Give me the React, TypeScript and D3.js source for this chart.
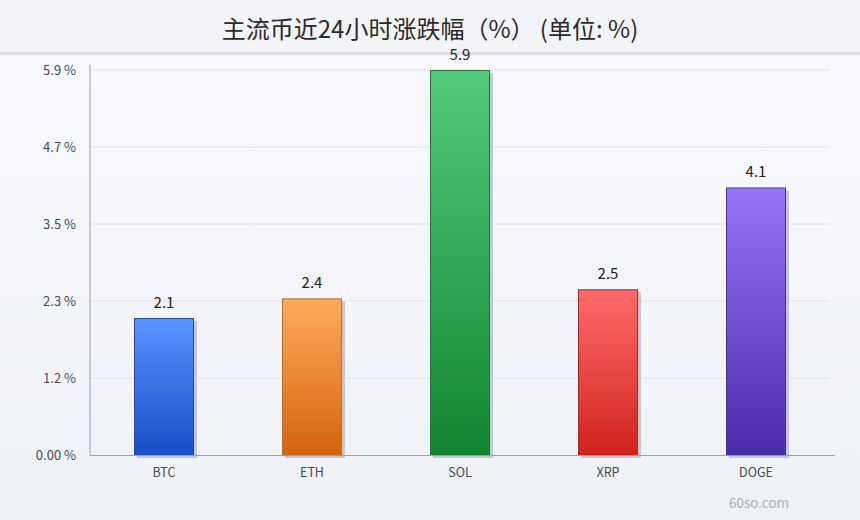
import { useEffect, useRef } from "react";
import * as d3 from "d3";

const WIDTH = 860;
const HEIGHT = 520;
const MARGIN = { top: 70, right: 30, bottom: 65, left: 90 };

const TITLE = "主流币近24小时涨跌幅（%） (单位: %)";
const coins = ["BTC", "ETH", "SOL", "XRP", "DOGE"];
const changes = [2.1, 2.4, 5.9, 2.54, 4.1];
const yTicks = [0, 1.18, 2.36, 3.54, 4.72, 5.9];
const yTickLabels = ["0.00 %", "1.2 %", "2.3 %", "3.5 %", "4.7 %", "5.9 %"];
const topColors = ["#5b93ff", "#ffab5c", "#55ca7c", "#ff6b6b", "#9775f8"];
const bottomColors = ["#184ec6", "#d2640e", "#118530", "#cf241c", "#482ca6"];
const strokeColors = ["#1f4cb8", "#c46a20", "#1d7a35", "#b82222", "#4a30a0"];

const FONT = "'Noto Sans CJK SC', 'Noto Sans', sans-serif";

export default function App() {
  const ref = useRef<SVGSVGElement | null>(null);

  useEffect(() => {
    const svg = d3.select(ref.current);
    svg.selectAll("*").remove();

    const x0 = MARGIN.left;
    const x1 = WIDTH - MARGIN.right;
    const y0 = HEIGHT - MARGIN.bottom;
    const y1 = MARGIN.top;

    const xScale = d3.scaleBand().domain(coins).range([x0, x1]).paddingInner(0.595).paddingOuter(0.2975);
    const yScale = d3.scaleLinear().domain([0, 5.9]).range([y0, y1]);

    const defs = svg.append("defs");
    const bg = defs.append("linearGradient").attr("id", "bg").attr("x1", 0).attr("y1", 0).attr("x2", 0).attr("y2", 1);
    bg.append("stop").attr("offset", "0%").attr("stop-color", "#fafbfe");
    bg.append("stop").attr("offset", "100%").attr("stop-color", "#eef1f6");
    coins.forEach((c, i) => {
      const g = defs.append("linearGradient").attr("id", "bar-" + c).attr("x1", 0).attr("y1", 0).attr("x2", 0).attr("y2", 1);
      g.append("stop").attr("offset", "0%").attr("stop-color", topColors[i]);
      g.append("stop").attr("offset", "100%").attr("stop-color", bottomColors[i]);
    });

    // background + title band
    svg.append("rect").attr("width", WIDTH).attr("height", HEIGHT).attr("fill", "url(#bg)");
    svg.append("rect").attr("width", WIDTH).attr("height", 52).attr("fill", "#f3f4f8");
    svg.append("rect").attr("y", 52).attr("width", WIDTH).attr("height", 3).attr("fill", "#dcdfe8");
    svg
      .append("text")
      .attr("x", WIDTH / 2)
      .attr("y", 38)
      .attr("text-anchor", "middle")
      .attr("font-family", FONT)
      .attr("font-size", 24)
      .attr("fill", "#2a2a2a")
      .text(TITLE);

    // grid
    svg
      .append("g")
      .selectAll("line")
      .data(yTicks.slice(1))
      .join("line")
      .attr("x1", x0)
      .attr("x2", x1)
      .attr("y1", (d) => yScale(d))
      .attr("y2", (d) => yScale(d))
      .attr("stroke", "#dde1ea")
      .attr("stroke-width", 1);

    // y axis
    svg.append("line").attr("x1", x0).attr("x2", x0).attr("y1", 65).attr("y2", y0).attr("stroke", "#9a9eac");
    svg
      .append("g")
      .selectAll("text")
      .data(yTicks)
      .join("text")
      .attr("x", 76)
      .attr("y", (d) => yScale(d) + 4.5)
      .attr("text-anchor", "end")
      .attr("font-family", FONT)
      .attr("font-size", 13)
      .attr("fill", "#444a55")
      .text((_, i) => yTickLabels[i]);

    // bars (shadow first, then the gradient bar)
    const bars = svg.append("g").selectAll("g").data(coins).join("g");
    bars
      .append("rect")
      .attr("x", (d) => (xScale(d) as number) + 3)
      .attr("y", (_, i) => yScale(changes[i]) + 3)
      .attr("width", xScale.bandwidth())
      .attr("height", (_, i) => y0 - yScale(changes[i]))
      .attr("fill", "#c3c7d4");
    bars
      .append("rect")
      .attr("x", (d) => (xScale(d) as number) + 0.5)
      .attr("y", (_, i) => yScale(changes[i]) + 0.5)
      .attr("width", xScale.bandwidth() - 1)
      .attr("height", (_, i) => y0 - yScale(changes[i]) - 0.5)
      .attr("fill", (d) => `url(#bar-${d})`)
      .attr("stroke", (_, i) => strokeColors[i])
      .attr("stroke-width", 1);
    bars
      .append("text")
      .attr("x", (d) => (xScale(d) as number) + xScale.bandwidth() / 2)
      .attr("y", (_, i) => yScale(changes[i]) - 10)
      .attr("text-anchor", "middle")
      .attr("font-family", FONT)
      .attr("font-size", 15)
      .attr("fill", "#222")
      .text((_, i) => changes[i].toFixed(1));

    // x axis
    svg.append("line").attr("x1", x0).attr("x2", x1 + 5).attr("y1", y0 + 0.5).attr("y2", y0 + 0.5).attr("stroke", "#9a9eac");
    svg
      .append("g")
      .selectAll("text")
      .data(coins)
      .join("text")
      .attr("x", (d) => (xScale(d) as number) + xScale.bandwidth() / 2)
      .attr("y", 477)
      .attr("text-anchor", "middle")
      .attr("font-family", FONT)
      .attr("font-size", 12.5)
      .attr("fill", "#444a55")
      .text((d) => d);

    svg
      .append("text")
      .attr("x", 759)
      .attr("y", 508)
      .attr("text-anchor", "middle")
      .attr("font-family", FONT)
      .attr("font-size", 13.5)
      .attr("fill", "#a9afbf")
      .text("60so.com");
  }, []);

  return (
    <svg
      ref={ref}
      width={WIDTH}
      height={HEIGHT}
      style={{ position: "absolute", left: 0, top: 0, display: "block" }}
    />
  );
}
